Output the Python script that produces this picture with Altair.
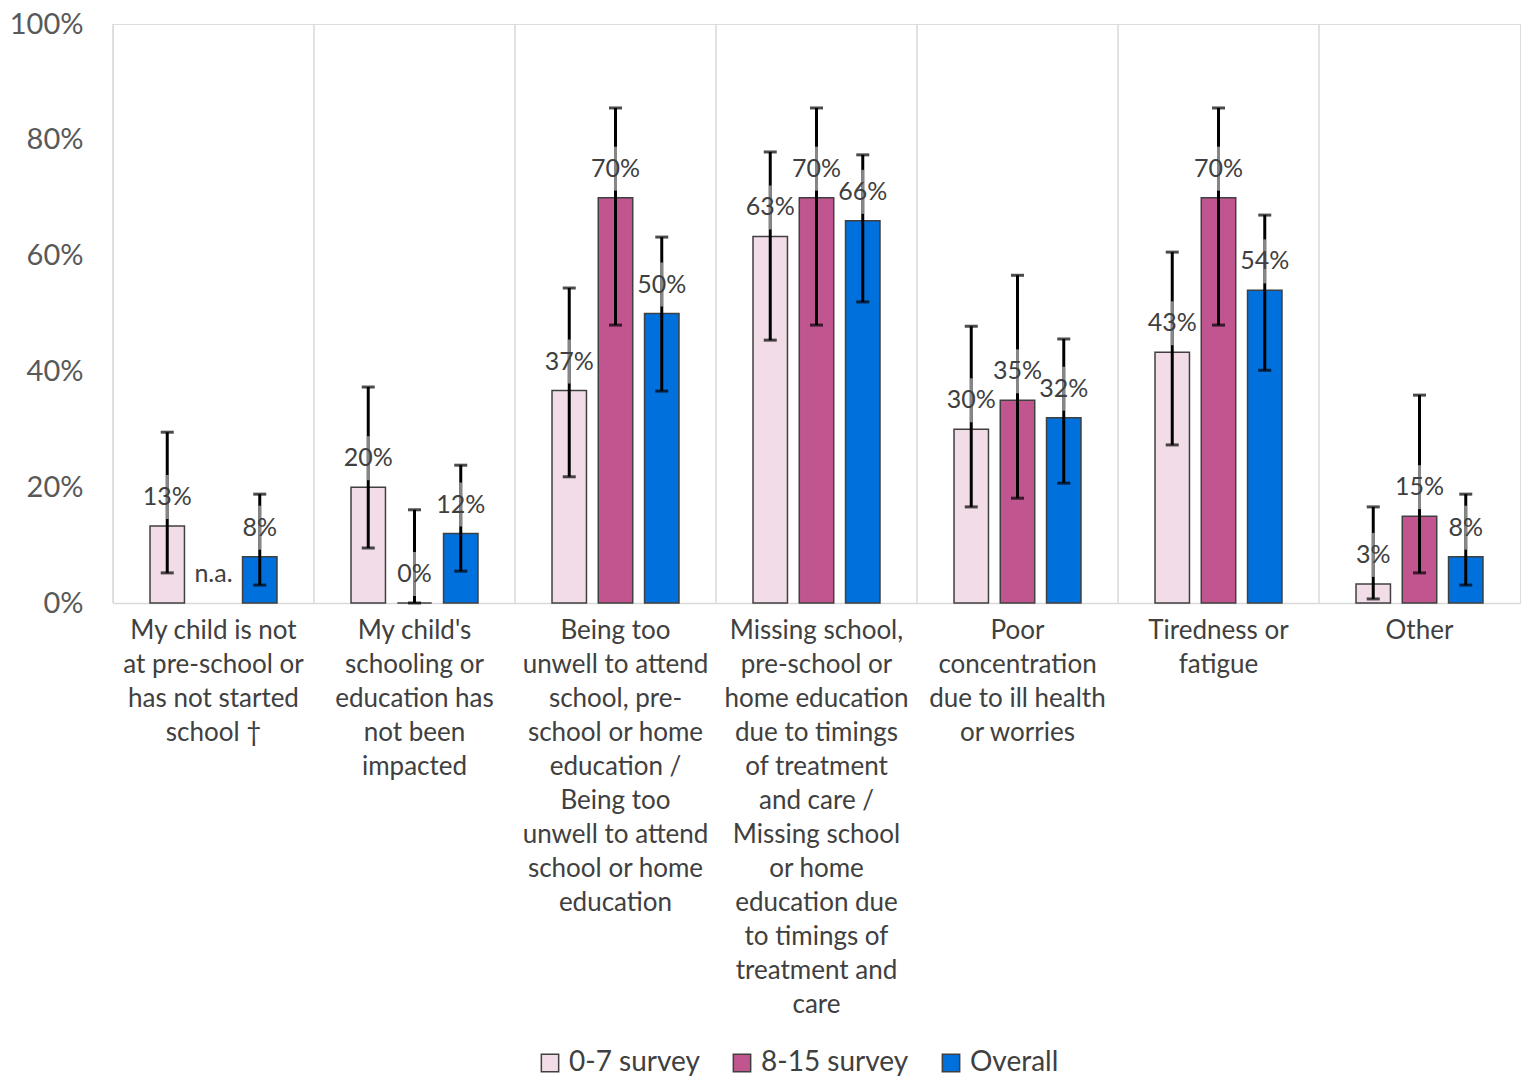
import altair as alt
import pandas as pd

categories = [
    "My child is not|at pre-school or|has not started|school †",
    "My child's|schooling or|education has|not been|impacted",
    "Being too|unwell to attend|school, pre-|school or home|education /|Being too|unwell to attend|school or home|education",
    "Missing school,|pre-school or|home education|due to timings|of treatment|and care /|Missing school|or home|education due|to timings of|treatment and|care",
    "Poor|concentration|due to ill health|or worries",
    "Tiredness or|fatigue",
    "Other",
]
series = ["0-7 survey", "8-15 survey", "Overall"]
colors = ["#F2DCE8", "#C0558F", "#0070DD"]

v07 = [13.3, 20.0, 36.7, 63.3, 30.0, 43.3, 3.3]
lo07 = [5.2, 9.5, 21.8, 45.4, 16.6, 27.3, 0.7]
hi07 = [29.5, 37.3, 54.4, 77.9, 47.8, 60.6, 16.6]

v815 = [None, 0.0, 70.0, 70.0, 35.0, 70.0, 15.0]
lo815 = [None, 0.0, 48.0, 48.0, 18.1, 48.0, 5.2]
hi815 = [None, 16.1, 85.5, 85.5, 56.6, 85.5, 35.9]

vall = [8.0, 12.0, 50.0, 66.0, 32.0, 54.0, 8.0]
loall = [3.1, 5.5, 36.6, 52.0, 20.7, 40.2, 3.1]
hiall = [18.8, 23.8, 63.2, 77.4, 45.6, 67.0, 18.8]

rows = []
for s, vals, los, his in [
    (series[0], v07, lo07, hi07),
    (series[1], v815, lo815, hi815),
    (series[2], vall, loall, hiall),
]:
    for c, v, lo, hi in zip(categories, vals, los, his):
        rows.append({
            "cat": c, "series": s, "value": v, "lo": lo, "hi": hi,
            "labely": 0 if v is None else v,
            "label": "n.a." if v is None else f"{round(v)}%",
        })
df = pd.DataFrame(rows)
grid_df = pd.DataFrame({"cat": categories})

W = 1407
H = 579
FONT = "Lato"

xenc = alt.X("cat:N", sort=categories,
             scale=alt.Scale(paddingInner=0, paddingOuter=0),
             axis=alt.Axis(title=None, labelAngle=0, ticks=False,
                           labelExpr="split(datum.label, '|')",
                           labelAlign="center", labelBaseline="top",
                           labelFontSize=26, labelColor="#404040",
                           labelLineHeight=34, labelPadding=14,
                           labelLimit=400, labelOverlap=False,
                           labelFont=FONT,
                           domainColor="#D9D9D9", domainWidth=1.5))
xoff = alt.XOffset("series:N", sort=series,
                   scale=alt.Scale(domain=series, paddingInner=0.255, paddingOuter=0.8))
yscale = alt.Scale(domain=[0, 100], nice=False)

base = alt.Chart(df)

bars = base.transform_filter("datum.value != null").mark_bar(
    stroke="#404040", strokeWidth=1.5
).encode(
    x=xenc, xOffset=xoff,
    y=alt.Y("value:Q", scale=yscale,
            axis=alt.Axis(title=None, values=[0, 20, 40, 60, 80, 100],
                          labelExpr="datum.value + '%'", grid=False,
                          domain=False, ticks=False, labelPadding=30,
                          labelFontSize=29, labelColor="#595959", labelFont=FONT)),
    color=alt.Color("series:N", sort=series,
                    scale=alt.Scale(domain=series, range=colors),
                    legend=alt.Legend(title=None, orient="none", direction="horizontal",
                                      legendX=423, legendY=1025,
                                      symbolType="square", symbolSize=300,
                                      symbolStrokeColor="#404040", symbolStrokeWidth=1.5,
                                      labelFontSize=28, labelColor="#404040", labelFont=FONT,
                                      labelOffset=5, columnPadding=28)),
)

err = base.transform_filter("datum.hi != null").mark_rule(color="black", strokeWidth=3).encode(
    x=xenc, xOffset=xoff, y=alt.Y("lo:Q", scale=yscale), y2="hi:Q")
cap_hi = base.transform_filter("datum.hi != null").mark_tick(color="black", thickness=3, size=13).encode(
    x=xenc, xOffset=xoff, y=alt.Y("hi:Q", scale=yscale))
cap_lo = base.transform_filter("datum.hi != null").mark_tick(color="black", thickness=3, size=13).encode(
    x=xenc, xOffset=xoff, y=alt.Y("lo:Q", scale=yscale))
grey = base.transform_filter("datum.hi != null").mark_tick(
    orient="vertical", color="#BFBFBF", thickness=3, size=44, yOffset=-29
).encode(x=xenc, xOffset=xoff, y=alt.Y("value:Q", scale=yscale))

text = base.mark_text(fontSize=25, color="#404040", font=FONT, dy=-29, baseline="middle").encode(
    x=xenc, xOffset=xoff, y=alt.Y("labely:Q", scale=yscale), text="label:N")

grid = alt.Chart(grid_df).mark_rule(color="#D9D9D9", strokeWidth=1.5).encode(
    x=alt.X("cat:N", sort=categories, bandPosition=0),
    y=alt.value(0), y2=alt.value(H))

chart = alt.layer(grid, bars, err, cap_hi, cap_lo, grey, text).properties(
    width=W, height=H,
    autosize=alt.AutoSizeParams(type="none"),
    padding={"left": 105, "top": 16, "right": 5, "bottom": 475},
).configure_view(stroke=None).configure(font=FONT)

chart.save("out.html", embed_options={"renderer": "svg", "actions": False})
